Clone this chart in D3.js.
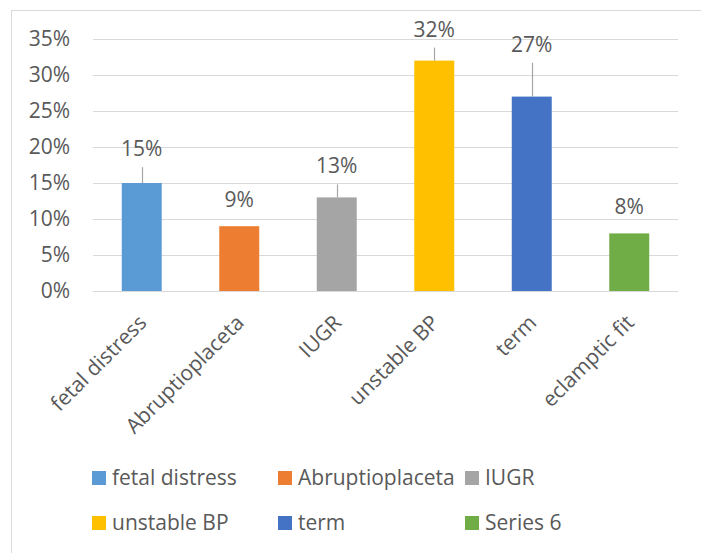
<!DOCTYPE html>
<html>
<head>
<meta charset="utf-8">
<script src="https://cdn.jsdelivr.net/npm/d3@7"></script>
<style>
  html, body { margin: 0; padding: 0; background: #ffffff; }
  svg { display: block; }
  text { font-family: "Open Sans", "Noto Sans", sans-serif; fill: #595959; }
</style>
</head>
<body>
<svg id="chart" width="701" height="553"></svg>
<script>
// Complications, share of cases
const categories = ["fetal distress", "Abruptioplaceta", "IUGR", "unstable BP", "term", "eclamptic fit"];
const values = [0.15, 0.09, 0.13, 0.32, 0.27, 0.08];
const errors = [0.022, 0, 0.018, 0.018, 0.047, 0];
const colors = ["#5b9bd5", "#ed7d31", "#a5a5a5", "#ffc000", "#4472c4", "#70ad47"];
const legendLabels = ["fetal distress", "Abruptioplaceta", "IUGR", "unstable BP", "term", "Series 6"];
const yTicks = [0, 0.05, 0.10, 0.15, 0.20, 0.25, 0.30, 0.35];

const fontSize = 21;
const svg = d3.select("#chart");

// chart frame
svg.append("rect")
  .attr("x", 11.5).attr("y", 10.5)
  .attr("width", 900).attr("height", 900)
  .attr("fill", "#ffffff")
  .attr("stroke", "#d9d9d9").attr("stroke-width", 1);

const plot = { left: 93, right: 678, top: 39, bottom: 291 };

const x = d3.scaleBand()
  .domain(categories)
  .range([plot.left, plot.right])
  .paddingInner(0.59)
  .paddingOuter(0.295);

const y = d3.scaleLinear()
  .domain([0, 0.35])
  .range([plot.bottom, plot.top]);

// horizontal gridlines
svg.append("g")
  .selectAll("line")
  .data(yTicks)
  .join("line")
  .attr("x1", plot.left).attr("x2", plot.right)
  .attr("y1", d => Math.round(y(d)) + 0.5)
  .attr("y2", d => Math.round(y(d)) + 0.5)
  .attr("stroke", "#d9d9d9").attr("stroke-width", 1.2);

// y axis labels
const yAxis = d3.axisLeft(y)
  .tickValues(yTicks)
  .tickFormat(d3.format(".0%"))
  .tickSize(0)
  .tickPadding(0);

const yg = svg.append("g")
  .attr("transform", `translate(70,0)`)
  .call(yAxis);
yg.select(".domain").remove();
yg.selectAll("text")
  .attr("font-family", "Open Sans")
  .attr("font-size", fontSize)
  .attr("fill", "#595959");

// bars
svg.append("g")
  .selectAll("rect")
  .data(categories)
  .join("rect")
  .attr("x", d => x(d))
  .attr("width", x.bandwidth())
  .attr("y", (d, i) => y(values[i]))
  .attr("height", (d, i) => y(0) - y(values[i]))
  .attr("fill", (d, i) => colors[i]);

// positive error bars
svg.append("g")
  .selectAll("line")
  .data(categories.filter((d, i) => errors[i] > 0))
  .join("line")
  .attr("x1", d => Math.round(x(d) + x.bandwidth() / 2) + 0.5)
  .attr("x2", d => Math.round(x(d) + x.bandwidth() / 2) + 0.5)
  .attr("y1", d => y(values[categories.indexOf(d)]))
  .attr("y2", d => { const i = categories.indexOf(d); return y(values[i] + errors[i]); })
  .attr("stroke", "#a6a6a6").attr("stroke-width", 1.2);

// value labels
svg.append("g")
  .selectAll("text")
  .data(categories)
  .join("text")
  .attr("x", d => x(d) + x.bandwidth() / 2)
  .attr("y", (d, i) => y(values[i] + errors[i]) - (errors[i] > 0 ? 11 : 19.5))
  .attr("text-anchor", "middle")
  .attr("font-size", fontSize)
  .text((d, i) => d3.format(".0%")(values[i]));

// category labels, rotated
svg.append("g")
  .selectAll("text")
  .data(categories)
  .join("text")
  .attr("transform", d => `translate(${x(d) + x.bandwidth() / 2 + 6},324) rotate(-45)`)
  .attr("text-anchor", "end")
  .attr("font-size", fontSize)
  .text(d => d);

// legend
const legendCols = [92, 278, 465];
const legendRows = [478, 523];
const legend = svg.append("g")
  .selectAll("g")
  .data(legendLabels)
  .join("g")
  .attr("transform", (d, i) => `translate(${legendCols[i % 3]},${legendRows[Math.floor(i / 3)]})`);

legend.append("rect")
  .attr("x", 0).attr("y", -7)
  .attr("width", 14).attr("height", 14)
  .attr("fill", (d, i) => colors[i]);

legend.append("text")
  .attr("x", 20).attr("y", 0)
  .attr("dy", "0.35em")
  .attr("font-size", fontSize)
  .text(d => d);
</script>
</body>
</html>
